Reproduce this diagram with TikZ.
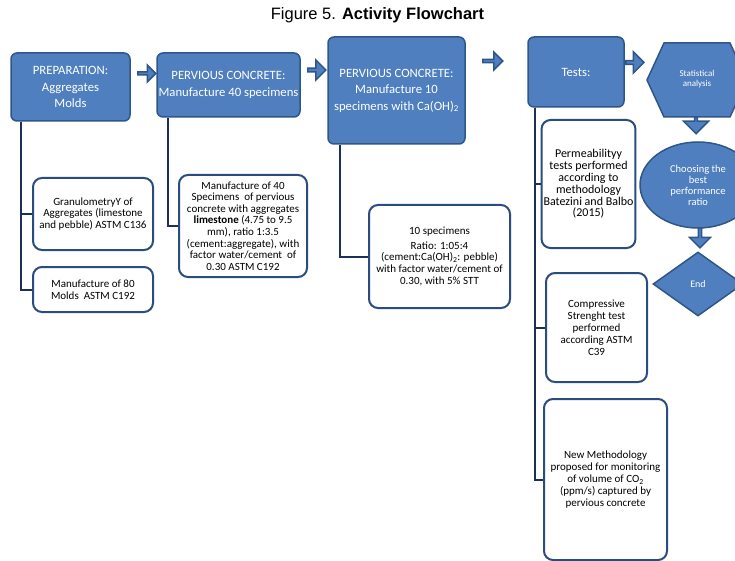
\documentclass[tikz,border=0pt]{standalone}
\usepackage{fontspec}
\setmainfont{Carlito}
\newfontfamily\titlefont{Liberation Sans}
\usetikzlibrary{shapes.geometric,shapes.arrows}

\definecolor{boxblue}{HTML}{4F7FBE}
\definecolor{boxedge}{HTML}{2F5689}
\definecolor{framenavy}{HTML}{2B4C7E}
\definecolor{linknavy}{HTML}{1C2F5A}

\tikzset{
	bluefill/.style={fill=boxblue,draw=boxedge,line width=1.5pt,text=white,align=center},
	bluebox/.style={bluefill,rectangle,rounded corners=6pt,inner sep=1pt,font=\fontsize{12.7}{16.5}\selectfont},
	whitebox/.style={rectangle,rounded corners=9pt,fill=white,draw=framenavy,line width=2pt,align=center,inner sep=2pt,font=\fontsize{11}{11.6}\selectfont},
	blockarrow/.style={bluefill,single arrow,single arrow head extend=3.5pt,inner sep=0pt},
	link/.style={draw=linknavy,line width=2pt}
}

\begin{document}
\begin{tikzpicture}[x=1pt,y=-1pt]
	\useasboundingbox (0,0) rectangle (735,561);
	
	\node[font=\titlefont\fontsize{16.5}{18}\selectfont] (title) at (377.5,15) {Figure 5. \textbf{Activity Flowchart}};
	
	% top row
	\node[bluebox,minimum width=119pt,minimum height=68pt] (prep) at (70.5,87) {PREPARATION:\\Aggregates\\Molds};
	\node[bluebox,minimum width=143pt,minimum height=64pt] (pc40) at (228.5,85) {PERVIOUS CONCRETE:\\Manufacture 40 specimens};
	\node[bluebox,minimum width=137pt,minimum height=107pt] (pc10) at (396.5,90.5) {PERVIOUS CONCRETE:\\Manufacture 10\\specimens with Ca(OH)\textsubscript{2}};
	\node[bluebox,minimum width=96pt,minimum height=70pt] (tests) at (576,72) {Tests:};
	
	\node[blockarrow,minimum height=18pt,minimum width=17pt] (arr1) at (146,73.5) {};
	\node[blockarrow,minimum height=18pt,minimum width=20pt] (arr2) at (316,70) {};
	\node[blockarrow,minimum height=20pt,minimum width=18pt] (arr3) at (492,61) {};
	\node[blockarrow,minimum height=18pt,minimum width=21pt] (arr4) at (634,62.5) {};
	
	% right column
	\draw[bluefill] (647,80) -- (664,43) -- (730,43) -- (747,80) -- (730,117) -- (664,117) -- cycle;
	\node[text=white,align=center,font=\fontsize{9}{10.5}\selectfont] (stat) at (697,79) {Statistical\\analysis};
	\node[blockarrow,shape border rotate=270,single arrow head extend=6pt,minimum height=16pt,minimum width=25pt] (down1) at (696,125) {};
	\node[bluefill,ellipse,minimum width=116pt,minimum height=86pt,font=\fontsize{10.5}{11}\selectfont] (choose) at (698,185) {Choosing the\\best\\performance\\ratio};
	\node[blockarrow,shape border rotate=270,single arrow head extend=4pt,minimum height=20pt,minimum width=21pt] (down2) at (700,237) {};
	\node[bluefill,diamond,minimum width=90pt,minimum height=64pt,inner sep=0pt,font=\fontsize{10}{11}\selectfont] (end) at (698,284) {End};
	
	% detail boxes
	\node[whitebox,minimum width=120pt,minimum height=72pt] (gran) at (93,214) {GranulometryY of\\Aggregates (limestone\\and pebble) ASTM C136};
	\node[whitebox,minimum width=120pt,minimum height=45pt] (molds) at (93,289.5) {Manufacture of 80\\Molds\ \ ASTM C192};
	\node[whitebox,minimum width=128pt,minimum height=102pt] (man40) at (243,226) {Manufacture of 40\\Specimens\ \ of pervious\\concrete with aggregates\\\textbf{limestone} (4.75 to 9.5\\mm), ratio 1:3.5\\(cement:aggregate), with\\factor water/cement\ \ of\\0.30 ASTM C192};
	\node[whitebox,minimum width=141pt,minimum height=103pt,font=\fontsize{11}{11.7}\selectfont] (spec10) at (439.5,256.5) {10 specimens\\[2.5pt]Ratio: 1:05:4\\(cement:Ca(OH)\textsubscript{2}: pebble)\\with factor water/cement of\\0.30, with 5\% STT};
	\node[whitebox,minimum width=91pt,minimum height=128pt,font=\fontsize{12}{11.8}\selectfont] (perm) at (588.5,184) {Permeabilityy\\tests performed\\according to\\methodology\\Batezini and Balbo\\(2015)};
	\node[whitebox,minimum width=101pt,minimum height=109pt,font=\fontsize{11}{12}\selectfont] (comp) at (596.5,327.5) {Compressive\\Strenght test\\performed\\according ASTM\\C39};
	\node[whitebox,minimum width=123pt,minimum height=161pt,font=\fontsize{11}{12}\selectfont] (newm) at (605.5,479.5) {New Methodology\\proposed for monitoring\\of volume of CO\textsubscript{2}\\(ppm/s) captured by\\pervious concrete};
	
	% connectors
	\draw[link] ([xshift=11pt]prep.south west) |- (gran.west);
	\draw[link] ([xshift=11pt]prep.south west) |- (molds.west);
	\draw[link] ([xshift=12pt]pc40.south west) |- (man40.west);
	\draw[link] ([xshift=13pt]pc10.south west) |- (spec10.west);
	\draw[link] ([xshift=8pt]tests.south west) |- (perm.west);
	\draw[link] ([xshift=8pt]tests.south west) |- (comp.west);
	\draw[link] ([xshift=8pt]tests.south west) |- (newm.west);
	
\end{tikzpicture}
\end{document}
